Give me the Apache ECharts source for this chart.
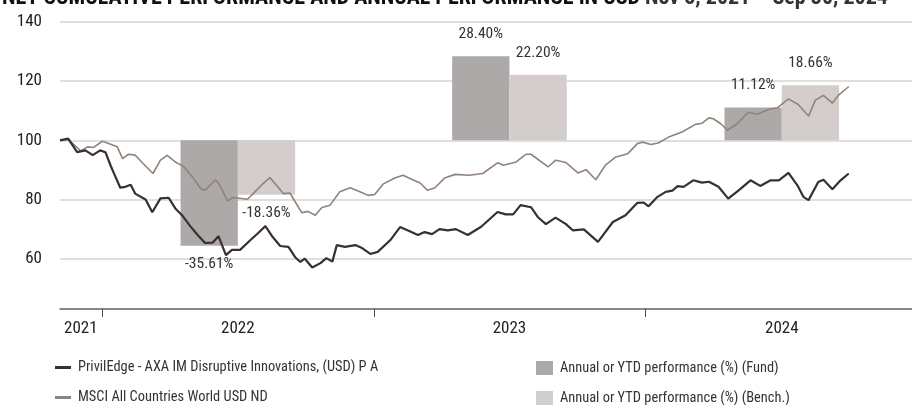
<!DOCTYPE html>
<html>
<head>
<meta charset="utf-8">
<script src="https://cdn.jsdelivr.net/npm/echarts@6/dist/echarts.min.js"></script>
<style>
  html, body { margin: 0; padding: 0; background: #fff; }
  #chart { width: 912px; height: 405px; }
</style>
</head>
<body>
<div id="chart"></div>
<script>
// fund line (PrivilEdge - AXA IM Disruptive Innovations)
const fundDates = ['2021-11-05','2021-11-16','2021-11-28','2021-12-09','2021-12-19','2021-12-29','2022-01-05','2022-01-12','2022-01-18','2022-01-25',
  '2022-02-01','2022-02-08','2022-02-14','2022-02-28','2022-03-09','2022-03-20','2022-03-31','2022-04-09','2022-04-18','2022-04-29',
  '2022-05-09','2022-05-19','2022-05-29','2022-06-06','2022-06-16','2022-06-24','2022-07-05','2022-07-19','2022-07-29','2022-08-08',
  '2022-08-17','2022-08-28','2022-09-08','2022-09-17','2022-09-24','2022-09-30','2022-10-10','2022-10-21','2022-10-29','2022-11-06',
  '2022-11-12','2022-11-23','2022-12-07','2022-12-16','2022-12-27','2023-01-06','2023-01-23','2023-02-05','2023-02-18','2023-03-01',
  '2023-03-10','2023-03-20','2023-03-30','2023-04-10','2023-04-21','2023-05-07','2023-05-25','2023-06-16','2023-06-27','2023-07-07',
  '2023-07-17','2023-07-31','2023-08-09','2023-08-20','2023-09-02','2023-09-16','2023-09-25','2023-10-10','2023-10-29','2023-11-18',
  '2023-12-05','2023-12-21','2023-12-29','2024-01-05','2024-01-17','2024-01-28','2024-02-06','2024-02-13','2024-02-21','2024-03-05',
  '2024-03-17','2024-03-26','2024-04-08','2024-04-21','2024-05-05','2024-05-21','2024-06-03','2024-06-17','2024-06-28','2024-07-11',
  '2024-07-23','2024-07-31','2024-08-07','2024-08-20','2024-08-27','2024-09-08','2024-09-19','2024-09-30'];
const fundValues = [100, 100.6, 96.0, 96.6, 95.0, 96.6, 96.0, 91.5, 88.0, 84.0,
  84.3, 85.0, 82.0, 80.0, 75.7, 80.4, 80.6, 77.0, 74.7, 71.0,
  68.0, 65.3, 65.4, 67.6, 61.2, 63.0, 63.0, 66.3, 68.6, 71.0,
  67.6, 64.3, 64.0, 60.5, 58.9, 60.0, 57.0, 58.5, 60.2, 59.0,
  64.6, 64.0, 64.6, 63.6, 61.6, 62.3, 66.3, 70.7, 69.3, 68.0,
  69.0, 68.3, 70.0, 69.6, 70.0, 68.0, 70.8, 75.8, 75.0, 75.0,
  78.1, 77.4, 74.1, 71.7, 73.9, 71.7, 69.6, 69.9, 65.7, 72.4,
  74.7, 78.9, 79.0, 77.7, 80.9, 82.6, 83.0, 84.5, 84.3, 86.5,
  85.7, 86.0, 84.3, 80.3, 83.1, 86.5, 84.6, 86.5, 86.5, 89.0,
  84.8, 80.9, 79.8, 85.9, 86.7, 83.5, 86.5, 88.8];

// benchmark line (MSCI All Countries World USD ND)
const benchDates = ['2021-11-05','2021-11-16','2021-12-03','2021-12-12','2021-12-20','2022-01-01','2022-01-12','2022-01-21','2022-01-28','2022-02-05',
  '2022-02-14','2022-02-25','2022-03-10','2022-03-20','2022-03-29','2022-04-09','2022-04-20','2022-05-02','2022-05-13','2022-05-19',
  '2022-06-02','2022-06-08','2022-06-18','2022-06-26','2022-07-15','2022-07-25','2022-08-05','2022-08-14','2022-08-25','2022-09-01',
  '2022-09-10','2022-09-26','2022-10-04','2022-10-14','2022-10-23','2022-11-03','2022-11-16','2022-11-30','2022-12-13','2022-12-24',
  '2023-01-02','2023-01-13','2023-01-29','2023-02-09','2023-02-22','2023-03-04','2023-03-14','2023-03-24','2023-04-06','2023-04-20',
  '2023-05-09','2023-05-27','2023-06-16','2023-06-24','2023-07-11','2023-07-24','2023-07-31','2023-08-23','2023-09-02','2023-09-16',
  '2023-10-02','2023-10-13','2023-10-26','2023-11-08','2023-11-22','2023-12-08','2023-12-21','2023-12-28','2024-01-08','2024-01-18',
  '2024-02-01','2024-02-19','2024-03-08','2024-03-17','2024-03-26','2024-04-01','2024-04-11','2024-04-20','2024-05-03','2024-05-18',
  '2024-05-30','2024-06-14','2024-06-26','2024-07-11','2024-07-24','2024-08-07','2024-08-16','2024-08-27','2024-09-08','2024-09-16',
  '2024-09-30'];
const benchValues = [100, 100.3, 96.4, 97.8, 97.6, 99.7, 98.7, 97.8, 93.8, 95.3,
  95.0, 92.1, 88.8, 93.3, 94.9, 92.7, 91.2, 87.6, 83.7, 83.1,
  86.7, 84.8, 79.5, 80.7, 80.1, 82.6, 85.4, 87.4, 84.2, 82.0,
  82.2, 75.5, 76.0, 74.7, 77.3, 78.1, 82.6, 84.0, 82.6, 81.4,
  81.7, 85.2, 87.3, 88.2, 86.7, 85.6, 83.1, 84.0, 87.3, 88.5,
  88.2, 88.8, 92.4, 91.6, 92.7, 95.3, 95.3, 91.0, 93.3, 92.5,
  89.0, 90.1, 86.7, 91.6, 94.4, 95.5, 98.9, 99.4, 98.6, 99.1,
  101.1, 102.8, 105.4, 105.8, 107.6, 107.3, 105.6, 103.4, 105.6, 109.5,
  108.8, 110.4, 111.0, 114.0, 112.1, 108.2, 113.5, 115.2, 112.6, 115.2,
  118.2];

// annual / YTD performance (%)
const perfYears = ['2022-07-02', '2023-07-02', '2024-07-02'];
const fundPerf = [-35.61, 28.40, 11.12];
const benchPerf = [-18.36, 22.20, 18.66];

// x axis
const yearLabels = ['2021', '2022', '2023', '2024'];
const yearLabelDates = ['2021-12-03', '2022-07-02', '2023-07-02', '2024-07-02'];
const yearTickDates = ['2022-01-01', '2023-01-01', '2024-01-01'];
const yTickValues = [60, 80, 100, 120, 140];

const FONT = "'Roboto Condensed', 'Liberation Sans', sans-serif";
const DAY = 24 * 3600 * 1000;
const BAR_DAYS = 77;
const BASE = 100;
const t = (s) => Date.parse(s + 'T00:00:00Z');

const fundName = 'PrivilEdge - AXA IM Disruptive Innovations, (USD) P A';
const benchName = 'MSCI All Countries World USD ND';
const fundBarName = 'Annual or YTD performance (%) (Fund)';
const benchBarName = 'Annual or YTD performance (%) (Bench.)';

function perfBar(side, color) {
  return function (params, api) {
    const mid = api.value(0);
    const v = api.value(1);
    const x0 = side < 0 ? mid - BAR_DAYS * DAY : mid;
    const x1 = side < 0 ? mid : mid + BAR_DAYS * DAY;
    const a = api.coord([x0, BASE]);
    const b = api.coord([x1, BASE + v]);
    const top = Math.min(a[1], b[1]);
    const h = Math.abs(a[1] - b[1]);
    const cx = (a[0] + b[0]) / 2;
    const ty = v >= 0 ? top - 22 : top + h + 18;
    return {
      type: 'group',
      children: [
        { type: 'rect', shape: { x: a[0], y: top, width: b[0] - a[0], height: h }, style: { fill: color } },
        { type: 'text', z2: 10, style: {
            text: v.toFixed(2) + '%', x: cx, y: ty, align: 'center', verticalAlign: 'middle',
            fill: '#333', font: '15.5px ' + FONT } }
      ]
    };
  };
}

const chart = echarts.init(document.getElementById('chart'), null, { renderer: 'canvas' });

chart.setOption({
  animation: false,
  backgroundColor: '#fff',
  title: {
    left: 2, top: -13, padding: 0,
    text: '{b|NET CUMULATIVE PERFORMANCE AND ANNUAL PERFORMANCE IN USD} {n|Nov 5, 2021 – Sep 30, 2024}',
    textStyle: {
      rich: {
        b: { fontFamily: FONT, fontWeight: 'bold', fontSize: 22, color: '#111' },
        n: { fontFamily: FONT, fontSize: 22, color: '#333' }
      }
    }
  },
  grid: { left: 60, right: 0, top: 22, bottom: 96 },
  legend: [
    {
      orient: 'vertical', left: 55, top: 360, height: 60, padding: 0, itemGap: 15,
      itemWidth: 16, itemHeight: 3, icon: 'rect',
      textStyle: { fontFamily: FONT, fontSize: 14.4, lineHeight: 15, color: '#333', padding: [0, 0, 0, 2] },
      data: [fundName, benchName]
    },
    {
      orient: 'vertical', left: 536, top: 361, height: 60, padding: 0, itemGap: 16,
      itemWidth: 17, itemHeight: 14, icon: 'rect',
      textStyle: { fontFamily: FONT, fontSize: 14.4, lineHeight: 14, color: '#333', padding: [0, 0, 0, 2] },
      data: [fundBarName, benchBarName]
    }
  ],
  xAxis: {
    type: 'value',
    min: t('2021-11-05'),
    max: t('2024-12-24'),
    axisLine: { show: true, lineStyle: { color: '#6b6b5b', width: 1.5 } },
    axisTick: { show: true, length: 8, customValues: yearTickDates.map(t), lineStyle: { color: '#4a4a3e' } },
    axisLabel: {
      customValues: yearLabelDates.map(t),
      formatter: function (val) {
        return yearLabels[yearLabels.indexOf(String(new Date(val).getUTCFullYear()))];
      },
      fontFamily: FONT, fontSize: 17, color: '#222', margin: 11
    },
    splitLine: { show: false }
  },
  yAxis: {
    type: 'value',
    min: 43, max: 140, splitNumber: 5,
    axisLine: { show: false },
    axisTick: { show: false },
    axisLabel: { customValues: yTickValues, fontFamily: FONT, fontSize: 17, color: '#222', margin: 18 },
    splitLine: { lineStyle: { color: '#d4d4d4', width: 1.5 } }
  },
  series: [
    {
      name: fundBarName, type: 'custom', z: 1,
      itemStyle: { color: '#ada9a8' },
      renderItem: perfBar(-1, '#ada9a8'),
      data: perfYears.map((d, i) => [t(d), fundPerf[i]])
    },
    {
      name: benchBarName, type: 'custom', z: 1,
      itemStyle: { color: '#d3cecb' },
      renderItem: perfBar(1, '#d3cecb'),
      data: perfYears.map((d, i) => [t(d), benchPerf[i]])
    },
    {
      name: benchName, type: 'line', z: 3, showSymbol: false, symbol: 'none',
      itemStyle: { color: '#928379' },
      lineStyle: { color: '#928379', width: 1.6 },
      data: benchDates.map((d, i) => [t(d), benchValues[i]])
    },
    {
      name: fundName, type: 'line', z: 4, showSymbol: false, symbol: 'none',
      itemStyle: { color: '#3a2f30' },
      lineStyle: { color: '#3a2f30', width: 2.2 },
      data: fundDates.map((d, i) => [t(d), fundValues[i]])
    }
  ]
});
</script>
</body>
</html>
